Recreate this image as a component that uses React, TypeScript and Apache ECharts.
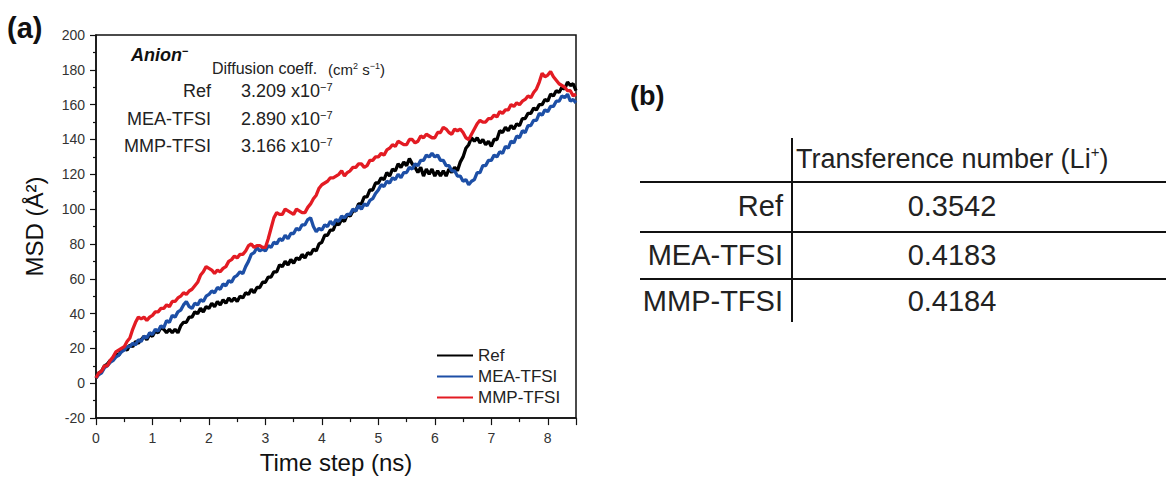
import React, { useEffect, useRef } from "react";
import * as echarts from "echarts";

const FONT = "'Liberation Sans', Arial, Helvetica, sans-serif";

// time grid (ns), 0.00 .. 8.50 step 0.05
const timeSteps: number[] = Array.from({ length: 171 }, (_, i) => Math.round(i * 5) / 100);

const seriesNames = ["Ref", "MEA-TFSI", "MMP-TFSI"];
const seriesColors = ["#000000", "#1d4fa6", "#e31b23"];

// MSD (Å²), one row per 0.5 ns
const refMSD = [
  3, 6, 7, 10, 11, 13, 14, 17, 16, 19,
  20, 19, 22, 21, 24, 23, 25, 27, 25, 28,
  27, 30, 29, 32, 31, 29, 31, 29, 31, 29,
  33, 35, 35, 38, 38, 41, 40, 43, 41, 44,
  43, 46, 44, 47, 45, 48, 46, 49, 47, 49,
  47, 50, 49, 52, 51, 54, 52, 55, 55, 58,
  58, 61, 61, 64, 64, 68, 67, 70, 68, 71,
  69, 72, 71, 74, 72, 75, 74, 77, 76, 80,
  81, 85, 85, 88, 88, 92, 91, 94, 93, 97,
  96, 99, 99, 103, 103, 107, 107, 111, 111, 115,
  115, 118, 117, 121, 119, 123, 122, 126, 124, 127,
  125, 129, 126, 124, 121, 124, 119, 123, 120, 123,
  119, 122, 119, 122, 119, 123, 121, 124, 122, 127,
  130, 135, 137, 141, 139, 141, 138, 140, 137, 139,
  136, 140, 140, 145, 144, 147, 145, 148, 146, 149,
  148, 152, 152, 155, 155, 158, 157, 160, 160, 163,
  162, 166, 165, 168, 167, 170, 169, 173, 171, 172,
  168,
];
const meaMSD = [
  3, 5, 6, 9, 10, 12, 13, 15, 16, 18,
  19, 21, 21, 23, 22, 25, 24, 27, 26, 29,
  28, 31, 30, 33, 32, 36, 35, 39, 38, 41,
  42, 45, 47, 44, 43, 46, 45, 48, 47, 50,
  51, 53, 52, 55, 54, 57, 56, 59, 58, 61,
  62, 64, 63, 67, 70, 74, 75, 78, 76, 77,
  76, 79, 78, 81, 80, 83, 82, 85, 83, 86,
  86, 89, 88, 91, 91, 94, 95, 90, 87, 89,
  88, 91, 90, 93, 91, 94, 93, 96, 95, 97,
  97, 100, 99, 102, 100, 103, 102, 105, 106, 109,
  111, 114, 113, 116, 115, 118, 117, 120, 118, 121,
  121, 124, 123, 126, 125, 128, 128, 131, 130, 132,
  130, 131, 128, 128, 125, 125, 122, 122, 119, 119,
  116, 117, 114, 116, 117, 121, 121, 125, 125, 128,
  128, 131, 130, 133, 132, 136, 135, 139, 138, 142,
  141, 145, 144, 148, 148, 151, 151, 155, 154, 157,
  156, 159, 159, 162, 162, 165, 164, 166, 162, 163,
  161,
];
const mmpMSD = [
  3, 6, 7, 10, 10, 13, 15, 18, 19, 20,
  21, 24, 26, 31, 35, 38, 37, 38, 36, 38,
  39, 41, 41, 43, 43, 45, 44, 47, 47, 49,
  50, 52, 51, 53, 54, 56, 58, 62, 64, 67,
  66, 65, 63, 65, 64, 66, 67, 70, 71, 73,
  72, 74, 74, 76, 79, 80, 78, 79, 79, 78,
  78, 83, 89, 95, 98, 97, 97, 100, 99, 98,
  97, 100, 99, 98, 98, 101, 103, 106, 108, 112,
  114, 115, 116, 118, 118, 119, 120, 122, 119, 121,
  122, 124, 124, 126, 126, 124, 125, 128, 128, 130,
  130, 132, 131, 134, 135, 137, 136, 139, 138, 137,
  137, 140, 140, 138, 139, 142, 141, 143, 142, 141,
  141, 144, 144, 147, 146, 144, 143, 146, 145, 146,
  144, 141, 140, 143, 146, 149, 151, 150, 150, 152,
  152, 154, 153, 156, 155, 157, 157, 160, 159, 161,
  160, 162, 163, 165, 164, 167, 169, 173, 178, 176,
  177, 179, 176, 174, 172, 171, 170, 168, 168, 165,
  166,
];
const seriesValues = [refMSD, meaMSD, mmpMSD];

const diffRows = ["Ref", "MEA-TFSI", "MMP-TFSI"];
const diffMantissa = ["3.209", "2.890", "3.166"];
const diffExponent = "−7";

const tableRows = ["Ref", "MEA-TFSI", "MMP-TFSI"];
const transference = ["0.3542", "0.4183", "0.4184"];

export default function App() {
  const ref = useRef<HTMLDivElement>(null);
  useEffect(() => {
    if (!ref.current) return;
    const chart = echarts.init(ref.current, undefined, { renderer: "svg" });
    const textColor = "#222";
    const graphics: any[] = [];
    const txt = (x: number, y: number, text: string, fontSize: number, extra: any = {}) => ({
      type: "text",
      x,
      y,
      style: { text, fontSize, fontFamily: FONT, fill: textColor, verticalAlign: "middle", ...extra },
    });
    graphics.push(txt(7, 28, "(a)", 29, { fontWeight: "bold", fill: "#111" }));
    graphics.push(txt(630, 96, "(b)", 27, { fontWeight: "bold", fill: "#111" }));
    graphics.push(
      txt(131, 55, "{a|Anion}{s|−}", 18, {
        fill: "#111",
        rich: {
          a: { fontSize: 18, fontWeight: "bold", fontStyle: "italic", fontFamily: FONT, fill: "#111", lineHeight: 20 },
          s: { fontSize: 11, fontWeight: "bold", fontFamily: FONT, fill: "#111", verticalAlign: "top", lineHeight: 20 },
        },
      })
    );
    graphics.push(txt(212, 68, "Diffusion coeff.", 16));
    graphics.push(
      txt(328, 69, "{n|(cm}{s|2}{n| s}{s|−1}{n|)}", 15, {
        rich: {
          n: { fontSize: 15, fontFamily: FONT, fill: textColor, lineHeight: 16 },
          s: { fontSize: 9, fontFamily: FONT, fill: textColor, verticalAlign: "top", lineHeight: 16 },
        },
      })
    );
    const rowY = [91, 119, 146];
    diffRows.forEach((r, i) => {
      graphics.push(txt(211, rowY[i], r, 18, { align: "right" }));
      graphics.push(
        txt(241, rowY[i], `{n|${diffMantissa[i]} x10}{s|${diffExponent}}`, 18, {
          rich: {
            n: { fontSize: 18, fontFamily: FONT, fill: textColor, lineHeight: 20 },
            s: { fontSize: 11, fontFamily: FONT, fill: textColor, verticalAlign: "top", lineHeight: 20 },
          },
        })
      );
    });
    // table (b)
    const lineStyle = { stroke: "#111", lineWidth: 2 };
    [182, 232, 279].forEach((y) => {
      graphics.push({ type: "line", shape: { x1: 640, y1: y, x2: 1166, y2: y }, style: lineStyle });
    });
    graphics.push({ type: "line", shape: { x1: 792, y1: 138, x2: 792, y2: 322 }, style: lineStyle });
    graphics.push(
      txt(796, 159, "{n|Transference number (Li}{s|+}{n|)}", 27, {
        rich: {
          n: { fontSize: 27, fontFamily: FONT, fill: textColor, lineHeight: 30 },
          s: { fontSize: 15, fontFamily: FONT, fill: textColor, verticalAlign: "top", lineHeight: 30 },
        },
      })
    );
    const tY = [206, 255, 301];
    tableRows.forEach((r, i) => {
      graphics.push(txt(783, tY[i], r, 29, { align: "right" }));
      graphics.push(txt(952, tY[i], transference[i], 29, { align: "center" }));
    });

    chart.setOption({
      animation: false,
      backgroundColor: "#fff",
      textStyle: { fontFamily: FONT },
      grid: { left: 96, top: 35, width: 480, height: 386, show: true, borderColor: "#111", borderWidth: 1.5, backgroundColor: "transparent" },
      legend: {
        orient: "vertical",
        left: 432,
        top: 342,
        icon: "rect",
        itemWidth: 36,
        itemHeight: 2,
        itemGap: 4,
        textStyle: { fontSize: 17, color: textColor, fontFamily: FONT },
        data: seriesNames,
      },
      xAxis: {
        type: "value",
        min: 0,
        max: 8.5,
        interval: 1,
        name: "Time step (ns)",
        nameLocation: "middle",
        nameGap: 28,
        nameTextStyle: { fontSize: 24, color: "#111", fontFamily: FONT },
        axisLine: { show: true, onZero: false, lineStyle: { color: "#111", width: 1.5 } },
        axisTick: { show: true, inside: false, length: 7, lineStyle: { color: "#111", width: 1.2 } },
        minorTick: { show: true, splitNumber: 2, length: 4, lineStyle: { color: "#111", width: 1.2 } },
        splitLine: { show: false },
        axisLabel: {
          fontSize: 14,
          color: "#333",
          margin: 13,
          formatter: (v: number) => (Number.isInteger(v) ? String(v) : ""),
        },
      },
      yAxis: {
        type: "value",
        min: -20,
        max: 200,
        interval: 20,
        name: "MSD (Å²)",
        nameLocation: "middle",
        nameGap: 50,
        nameTextStyle: { fontSize: 24, color: "#111", fontFamily: FONT },
        axisLine: { show: true, onZero: false, lineStyle: { color: "#111", width: 1.5 } },
        axisTick: { show: true, inside: false, length: 6, lineStyle: { color: "#111", width: 1.2 } },
        minorTick: { show: true, splitNumber: 2, length: 3, lineStyle: { color: "#111", width: 1.2 } },
        splitLine: { show: false },
        axisLabel: { fontSize: 14, color: "#333", margin: 11 },
      },
      graphic: graphics,
      series: seriesNames.map((name, k) => ({
        name,
        type: "line",
        data: timeSteps.map((t, i) => [t, seriesValues[k][i]]),
        showSymbol: false,
        symbol: "none",
        lineStyle: { color: seriesColors[k], width: 3.3 },
        itemStyle: { color: seriesColors[k] },
        z: 2 + k,
      })),
    });
    return () => chart.dispose();
  }, []);
  return <div ref={ref} style={{ position: "fixed", left: 0, top: 0, width: 1166, height: 479 }} />;
}
